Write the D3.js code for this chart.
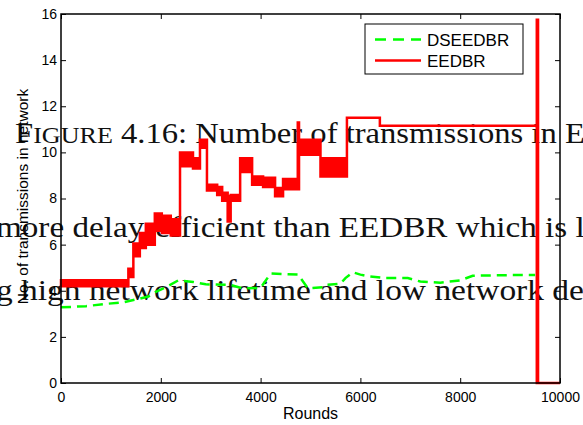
<!DOCTYPE html>
<html>
<head>
<meta charset="utf-8">
<script src="https://cdn.jsdelivr.net/npm/d3@7"></script>
<style>
  html, body { margin: 0; padding: 0; background: #fff; overflow: hidden; }
  svg { display: block; }
</style>
</head>
<body>
<svg id="chart" width="583" height="425"></svg>
<script>
// ---- data ---------------------------------------------------------------
const xTicks = [0, 2000, 4000, 6000, 8000, 10000];
const yTicks = [0, 2, 4, 6, 8, 10, 12, 14, 16];
const seriesNames = ["DSEEDBR", "EEDBR"];
const xTitle = "Rounds";
const yTitle = "No. of transmissions in network";

// DSEEDBR: average number of transmissions per round
const dseedbrRounds = [0, 500, 850, 1250, 1500, 1750, 1900, 2100, 2350, 2650, 2900, 3400, 3650,
  4000, 4200, 4750, 4800, 4950, 5250, 5300, 5600, 5700, 5850, 6000, 6150, 6500, 6950, 7200,
  7600, 8000, 8250, 9000, 9500];
const dseedbrValues = [3.28, 3.33, 3.42, 3.5, 3.62, 3.75, 3.95, 4.15, 4.45, 4.38, 4.28, 4.25, 4.1,
  4.12, 4.75, 4.7, 4.55, 4.1, 4.15, 4.25, 4.3, 4.55, 4.8, 4.7, 4.63, 4.55, 4.55, 4.4,
  4.35, 4.45, 4.65, 4.68, 4.68];

// EEDBR: step start rounds, with the lowest and highest count reached within each step
const eedbrRounds = [0, 1350, 1450, 1580, 1700, 1880, 2020, 2200, 2385, 2645, 2785, 2925, 3130,
  3230, 3340, 3400, 3590, 3830, 4050, 4290, 4450, 4745, 4770, 5200, 5730, 6390, 9535, 9560, 10000];
const eedbrLow = [4.2, 4.6, 5.5, 5.85, 6.0, 6.6, 6.5, 6.4, 9.4, 9.3, 10.2, 8.35, 8.15,
  7.9, 7.0, 7.9, 9.15, 8.6, 8.5, 8.1, 8.4, 8.4, 9.9, 8.95, 11.5, 11.15, 0, 0, 0];
const eedbrHigh = [4.45, 4.95, 6.05, 6.5, 6.9, 7.35, 7.25, 7.1, 10.0, 9.75, 10.55, 8.6, 8.5,
  8.25, 8.1, 8.15, 9.75, 8.95, 8.9, 8.45, 8.85, 11.3, 10.55, 9.75, 11.5, 11.15, 15.75, 0, 0];

// Caption lines of the surrounding document page
const captionLines = [
  [{ t: "F", big: true }, { t: "IGURE", big: false }, { t: " 4.16: Number of transmissions in E", big: true }],
  [{ t: "more delay-efficient than EEDBR which is l", big: true }],
  [{ t: "g high network lifetime and low network de", big: true }]
];

// ---- layout -------------------------------------------------------------
const svg = d3.select("#chart");
const plot = { left: 61, right: 560, top: 14, bottom: 383 };

const x = d3.scaleLinear().domain([0, 10000]).range([plot.left, plot.right]);
const y = d3.scaleLinear().domain([0, 16]).range([plot.bottom, plot.top]);

svg.append("rect").attr("width", 583).attr("height", 425).attr("fill", "#fff");

// ---- caption text (beneath the plot marks) ------------------------------
const captionLayout = [
  { x0: 15, x1: 585, base: 143 },
  { x0: -4, x1: 585, base: 237 },
  { x0: -4, x1: 584, base: 300 }
];
const capG = svg.append("g").attr("class", "caption");
captionLines.forEach((parts, i) => {
  const L = captionLayout[i];
  const g = capG.append("g");
  const txt = g.append("text")
    .attr("x", 0).attr("y", 0)
    .attr("font-family", "'Liberation Serif', 'DejaVu Serif', serif")
    .attr("fill", "#111");
  parts.forEach(p => {
    txt.append("tspan").attr("font-size", p.big ? 30 : 24).text(p.t);
  });
  const w = txt.node().getComputedTextLength();
  const sx = (L.x1 - L.x0) / w;
  g.attr("transform", `translate(${L.x0},${L.base}) scale(${sx},1)`);
});

// ---- axes ---------------------------------------------------------------
const axisFont = "'Liberation Sans', Arial, Helvetica, sans-serif";
function styleAxis(g, showLabels) {
  g.select(".domain").remove();
  g.selectAll(".tick line").attr("stroke", "#000").attr("stroke-width", 1);
  g.selectAll(".tick text")
    .attr("font-family", axisFont)
    .attr("font-size", 14)
    .attr("fill", "#000")
    .style("display", showLabels ? null : "none");
}

svg.append("g")
  .attr("transform", `translate(0,${plot.bottom})`)
  .call(d3.axisBottom(x).tickValues(xTicks).tickFormat(d3.format("d"))
    .tickSizeInner(-5).tickSizeOuter(0).tickPadding(9))
  .call(g => styleAxis(g, true));

svg.append("g")
  .attr("transform", `translate(0,${plot.top})`)
  .call(d3.axisTop(x).tickValues(xTicks).tickSizeInner(-5).tickSizeOuter(0))
  .call(g => styleAxis(g, false));

svg.append("g")
  .attr("transform", `translate(${plot.left},0)`)
  .call(d3.axisLeft(y).tickValues(yTicks).tickFormat(d3.format("d"))
    .tickSizeInner(-5).tickSizeOuter(0).tickPadding(4))
  .call(g => styleAxis(g, true));

svg.append("g")
  .attr("transform", `translate(${plot.right},0)`)
  .call(d3.axisRight(y).tickValues(yTicks).tickSizeInner(-5).tickSizeOuter(0))
  .call(g => styleAxis(g, false));

// ---- series -------------------------------------------------------------
const eedbr = eedbrRounds.map((r, i) => ({ r, lo: eedbrLow[i], hi: eedbrHigh[i] }));
const dseedbr = dseedbrRounds.map((r, i) => ({ r, v: dseedbrValues[i] }));

svg.append("path")
  .datum(dseedbr)
  .attr("fill", "none")
  .attr("stroke", "#00ff00")
  .attr("stroke-width", 2.5)
  .attr("stroke-dasharray", "10,6")
  .attr("d", d3.line().x(d => x(d.r)).y(d => y(d.v)));

svg.append("path")
  .datum(eedbr)
  .attr("fill", "#ff0000")
  .attr("stroke", "#ff0000")
  .attr("stroke-width", 2.5)
  .attr("stroke-linejoin", "miter")
  .attr("d", d3.area().curve(d3.curveStepAfter)
    .x(d => x(d.r)).y0(d => y(d.lo)).y1(d => y(d.hi)));

// plot box
svg.append("rect")
  .attr("x", plot.left).attr("y", plot.top)
  .attr("width", plot.right - plot.left).attr("height", plot.bottom - plot.top)
  .attr("fill", "none").attr("stroke", "#000").attr("stroke-width", 1.5);

// ---- axis titles --------------------------------------------------------
svg.append("text")
  .attr("x", (plot.left + plot.right) / 2).attr("y", 419)
  .attr("text-anchor", "middle")
  .attr("font-family", axisFont).attr("font-size", 16)
  .text(xTitle);

svg.append("text")
  .attr("transform", `translate(28,${(plot.top + plot.bottom) / 2 - 2}) rotate(-90)`)
  .attr("text-anchor", "middle")
  .attr("font-family", axisFont).attr("font-size", 15.5)
  .text(yTitle);

// ---- legend -------------------------------------------------------------
const legend = svg.append("g");
legend.append("rect")
  .attr("x", 365).attr("y", 24).attr("width", 158).attr("height", 50)
  .attr("fill", "#fff").attr("stroke", "#000").attr("stroke-width", 1);
const legendStyles = [
  { color: "#00ff00", dash: "11,7" },
  { color: "#ff0000", dash: null }
];
seriesNames.forEach((name, i) => {
  const ly = 39.5 + i * 21;
  legend.append("line")
    .attr("x1", 375).attr("x2", 421).attr("y1", ly).attr("y2", ly)
    .attr("stroke", legendStyles[i].color).attr("stroke-width", 2.5)
    .attr("stroke-dasharray", legendStyles[i].dash);
  legend.append("text")
    .attr("x", 427).attr("y", ly + 6.5)
    .attr("font-family", axisFont).attr("font-size", 17)
    .text(name);
});
</script>
</body>
</html>
